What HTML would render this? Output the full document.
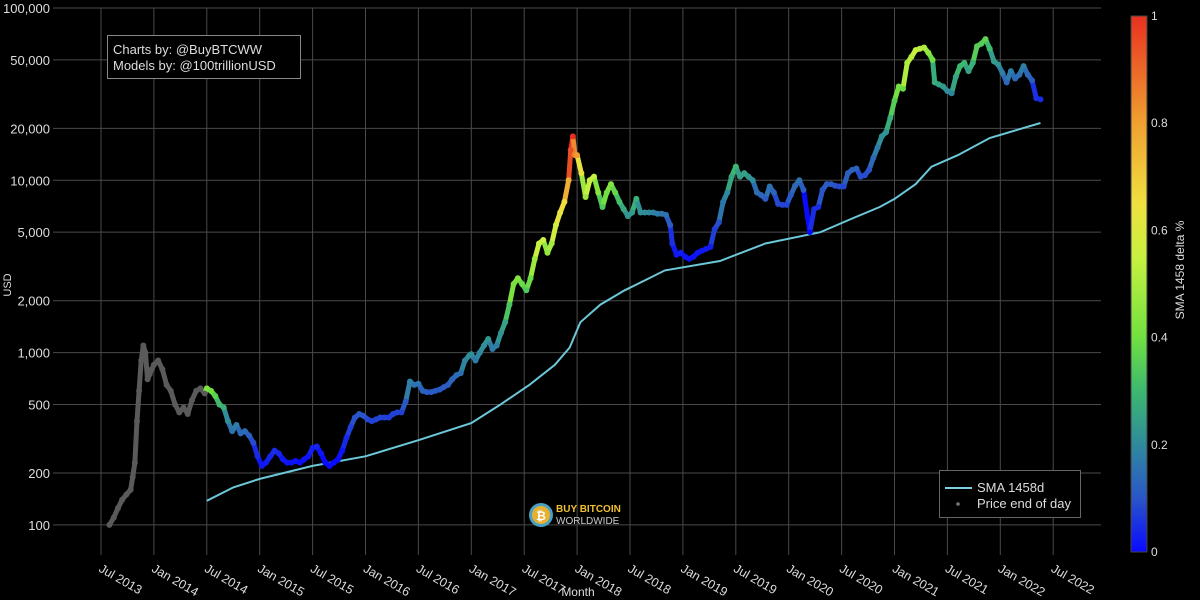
<!DOCTYPE html>
<html><head><meta charset="utf-8"><style>
html,body{margin:0;padding:0;background:#000;}
svg{display:block;font-family:"Liberation Sans","DejaVu Sans",sans-serif;}
</style></head><body>
<svg id="chart" width="1200" height="600" viewBox="0 0 1200 600" xmlns="http://www.w3.org/2000/svg">
<rect width="1200" height="600" fill="#000"/>
<defs>
<linearGradient id="cbg" x1="0" y1="1" x2="0" y2="0">
<stop offset="0" stop-color="#0a0aff"/><stop offset="0.1" stop-color="#2a55c8"/><stop offset="0.2" stop-color="#2f8a9c"/><stop offset="0.3" stop-color="#3cb870"/><stop offset="0.4" stop-color="#70e040"/><stop offset="0.55" stop-color="#c8f040"/><stop offset="0.65" stop-color="#f0e040"/><stop offset="0.8" stop-color="#f0a030"/><stop offset="1" stop-color="#e83020"/>
</linearGradient>
</defs>
<g id="grid"></g>
<g id="axes"></g>
<g id="sma"></g>
<g id="price"></g>
<g>
<rect x="107.5" y="35.5" width="193" height="43" fill="#000" stroke="#888" stroke-width="1"/>
<text x="113" y="54" fill="#ddd" font-size="13">Charts by: @BuyBTCWW</text>
<text x="113" y="70" fill="#ddd" font-size="13">Models by: @100trillionUSD</text>
</g>
<g>
<circle cx="541" cy="515" r="12" fill="#4aa0c0"/><circle cx="541" cy="515" r="9" fill="#e8b030"/>
<text x="541" y="520" fill="#fff" font-size="12" font-weight="bold" text-anchor="middle">₿</text>
<text x="556" y="512" fill="#f0c030" font-size="10" font-weight="bold">BUY BITCOIN</text>
<text x="556" y="524" fill="#ccc" font-size="10">WORLDWIDE</text>
</g>
<g>
<rect x="939.5" y="470.5" width="141" height="47" fill="#000" stroke="#666" stroke-width="1"/>
<line x1="945" y1="488" x2="972" y2="488" stroke="#7fd0e0" stroke-width="2"/>
<text x="977" y="492" fill="#ddd" font-size="13">SMA 1458d</text>
<circle cx="958" cy="504" r="1.8" fill="#777"/>
<text x="977" y="508" fill="#ddd" font-size="13">Price end of day</text>
</g>
<g>
<rect x="1131" y="16" width="16" height="536" fill="url(#cbg)" stroke="#444" stroke-width="1"/>
<g id="cbticks"></g>
<text transform="translate(1184,270) rotate(-90)" fill="#ddd" font-size="12" text-anchor="middle">SMA 1458 delta %</text>
</g>
<text transform="translate(11,285) rotate(-90)" fill="#ddd" font-size="11" text-anchor="middle">USD</text>
<text x="578" y="596" fill="#ddd" font-size="12" text-anchor="middle">Month</text>
</svg>
<script>
const yTicks=[100,200,500,1000,2000,5000,10000,20000,50000,100000];
const yTickLabels=["100","200","500","1,000","2,000","5,000","10,000","20,000","50,000","100,000"];
const xTicks=[2013.5,2014,2014.5,2015,2015.5,2016,2016.5,2017,2017.5,2018,2018.5,2019,2019.5,2020,2020.5,2021,2021.5,2022,2022.5];
const xTickLabels=["Jul 2013","Jan 2014","Jul 2014","Jan 2015","Jul 2015","Jan 2016","Jul 2016","Jan 2017","Jul 2017","Jan 2018","Jul 2018","Jan 2019","Jul 2019","Jan 2020","Jul 2020","Jan 2021","Jul 2021","Jan 2022","Jul 2022"];
const cbTicks=[0,0.2,0.4,0.6,0.8,1];
const cbTickLabels=["0","0.2","0.4","0.6","0.8","1"];
const priceDates=[2013.58,2013.62,2013.66,2013.70,2013.74,2013.78,2013.80,2013.82,2013.84,2013.86,2013.88,2013.90,2013.92,2013.94,2013.96,2013.98,2014.0,2014.04,2014.08,2014.12,2014.16,2014.2,2014.24,2014.28,2014.32,2014.36,2014.40,2014.44,2014.48,
2014.5,2014.54,2014.58,2014.62,2014.66,2014.70,2014.74,2014.78,2014.82,2014.86,2014.9,2014.94,2014.98,2015.02,2015.06,2015.1,2015.14,2015.18,2015.22,2015.26,2015.3,2015.34,2015.38,2015.42,2015.46,2015.5,2015.54,2015.58,2015.62,2015.66,2015.70,2015.74,2015.78,2015.82,2015.86,2015.9,2015.94,2015.98,2016.02,2016.06,2016.1,2016.14,2016.18,2016.22,2016.26,2016.3,2016.34,2016.38,2016.42,2016.46,2016.5,2016.54,2016.58,2016.62,2016.66,2016.7,2016.74,2016.78,2016.82,2016.86,2016.9,2016.94,2016.98,2017.0,2017.04,2017.08,2017.12,2017.16,2017.2,2017.24,2017.28,2017.32,2017.36,2017.4,2017.44,2017.48,2017.52,2017.56,2017.6,2017.64,2017.68,2017.72,2017.76,2017.8,2017.84,2017.88,2017.92,2017.94,2017.96,2017.98,2018.0,2018.04,2018.08,2018.12,2018.16,2018.2,2018.24,2018.28,2018.32,2018.36,2018.4,2018.44,2018.48,2018.52,2018.56,2018.6,2018.64,2018.68,2018.72,2018.76,2018.8,2018.84,2018.88,2018.9,2018.94,2018.98,2019.02,2019.06,2019.1,2019.14,2019.18,2019.22,2019.26,2019.3,2019.34,2019.38,2019.42,2019.46,2019.5,2019.54,2019.58,2019.62,2019.66,2019.7,2019.74,2019.78,2019.82,2019.86,2019.9,2019.94,2019.98,2020.02,2020.06,2020.1,2020.14,2020.2,2020.24,2020.28,2020.32,2020.36,2020.4,2020.44,2020.48,2020.52,2020.56,2020.6,2020.64,2020.68,2020.72,2020.76,2020.8,2020.84,2020.88,2020.92,2020.96,2021.0,2021.04,2021.08,2021.12,2021.16,2021.2,2021.24,2021.28,2021.32,2021.36,2021.38,2021.42,2021.46,2021.5,2021.54,2021.58,2021.62,2021.66,2021.7,2021.74,2021.78,2021.82,2021.86,2021.9,2021.94,2021.98,2022.02,2022.06,2022.1,2022.14,2022.18,2022.22,2022.26,2022.3,2022.34,2022.38];
const priceValues=[100,110,125,140,150,160,190,230,400,600,900,1100,1000,700,750,800,850,900,800,650,600,500,450,480,440,530,600,620,580,
620,600,560,500,480,400,350,380,340,350,330,300,250,220,230,250,270,260,240,230,230,235,230,240,250,280,285,260,230,220,230,240,270,320,370,420,440,430,410,400,410,420,420,420,440,450,450,520,680,650,660,600,590,590,600,610,630,650,700,740,760,900,960,980,900,1000,1100,1200,1050,1100,1300,1500,1900,2500,2700,2500,2300,2700,3500,4300,4500,3800,4300,5500,6500,7500,10000,15000,18000,14000,14000,11000,8000,10000,10500,8500,7000,8500,9500,8500,7500,6800,6200,6500,7800,6500,6500,6500,6500,6400,6400,6300,5500,4300,3700,3800,3600,3500,3600,3800,3900,4000,4100,5200,5700,7500,8500,10500,12000,10500,11000,10500,10000,8500,8200,7800,9200,8500,7300,7200,7200,8200,9300,10000,8800,5000,6800,7000,8800,9500,9500,9300,9200,9200,11000,11500,11700,10500,10700,11500,13500,15500,18000,19000,23000,29000,35000,34000,48000,52000,57000,58000,59000,55000,50000,37000,36000,35000,33000,32000,40000,46000,48000,43000,48000,60000,62000,66000,58000,49000,47000,42000,37000,43000,39000,41000,46000,41000,38000,30000,29500];
const smaDates=[2014.5,2014.75,2015.0,2015.5,2016.0,2016.5,2017.0,2017.27,2017.55,2017.79,2017.93,2018.03,2018.22,2018.45,2018.83,2019.35,2019.78,2020.3,2020.6,2020.86,2021.0,2021.2,2021.35,2021.6,2021.9,2022.38];
const smaValues=[138,165,185,220,250,310,390,497,650,850,1070,1500,1900,2300,3000,3400,4300,5000,6000,7000,7800,9500,12000,14000,17600,21500];

const NS="http://www.w3.org/2000/svg";
const X0=53,X1=1101,Y0=8,Y1=555;
function xs(t){return 101+(t-2013.5)*105.8;}
function ys(v){return 8+(5-Math.log10(v))*172.3;}
function cbY(v){return 552-v*536;}
function mk(tag,attrs,parent){const e=document.createElementNS(NS,tag);for(const k in attrs)e.setAttribute(k,attrs[k]);parent.appendChild(e);return e;}
const stops=[[0,[10,10,255]],[0.1,[42,85,200]],[0.2,[47,138,156]],[0.3,[60,184,112]],[0.4,[112,224,64]],[0.55,[200,240,64]],[0.65,[240,224,64]],[0.8,[240,160,48]],[1,[232,48,32]]];
function cmap(v){v=Math.max(0,Math.min(1,v));for(let i=1;i<stops.length;i++){if(v<=stops[i][0]){const a=stops[i-1],b=stops[i],f=(v-a[0])/(b[0]-a[0]);const c=a[1].map((x,j)=>Math.round(x+(b[1][j]-x)*f));return `rgb(${c[0]},${c[1]},${c[2]})`;}}return 'rgb(232,48,32)';}
function smaAt(t){if(t<smaDates[0])return null;for(let i=1;i<smaDates.length;i++){if(t<=smaDates[i]){const f=(t-smaDates[i-1])/(smaDates[i]-smaDates[i-1]);return Math.pow(10,Math.log10(smaValues[i-1])+f*(Math.log10(smaValues[i])-Math.log10(smaValues[i-1])));}}return smaValues[smaValues.length-1];}
function colorFor(i){const s=smaAt(priceDates[i]);if(s===null)return '#5a5a5a';const r=Math.max(1,priceValues[i]/s);return cmap(Math.pow(Math.log(r)/Math.log(15),1.45));}

const grid=document.getElementById('grid'),axes=document.getElementById('axes');
yTicks.forEach((v,i)=>{
  const l=mk('line',{x1:X0,x2:X1,y1:ys(v),y2:ys(v),stroke:'#4a4a4a','stroke-width':1},grid);
  
  
  const t=mk('text',{x:50,y:ys(v)+5,fill:'#ddd','font-size':13,'text-anchor':'end'},axes);
  t.textContent=yTickLabels[i];
  
  
});
xTicks.forEach((v,i)=>{
  const x=xs(v);
  const l=mk('line',{x1:x,x2:x,y1:Y0,y2:Y1,stroke:'#4a4a4a','stroke-width':1},grid);
  
  
  const t=mk('text',{transform:`translate(${x-3},${571}) rotate(30)`,fill:'#ddd','font-size':12.5},axes);
  t.textContent=xTickLabels[i];
  
  
});
const cbg=document.getElementById('cbticks');
cbTicks.forEach((v,i)=>{
  const t=mk('text',{x:1151,y:cbY(v)+4,fill:'#ddd','font-size':12},cbg);
  t.textContent=cbTickLabels[i];
  
  
});
const sma=document.getElementById('sma');
const sp=mk('path',{d:smaDates.map((t,i)=>(i?'L':'M')+xs(t).toFixed(1)+','+ys(smaValues[i]).toFixed(1)).join(''),fill:'none',stroke:'#6cc8d8','stroke-width':2},sma);


const pg=document.getElementById('price');
for(let i=1;i<priceDates.length;i++){
  const s=mk('line',{x1:xs(priceDates[i-1]),y1:ys(priceValues[i-1]),x2:xs(priceDates[i]),y2:ys(priceValues[i]),stroke:colorFor(i),'stroke-width':5,'stroke-linecap':'round'},pg);
  
  
}
priceDates.forEach((t,i)=>{
  const c=mk('circle',{cx:xs(t),cy:ys(priceValues[i]),r:3,fill:colorFor(i)},pg);
  
  
});
</script>
</body></html>
